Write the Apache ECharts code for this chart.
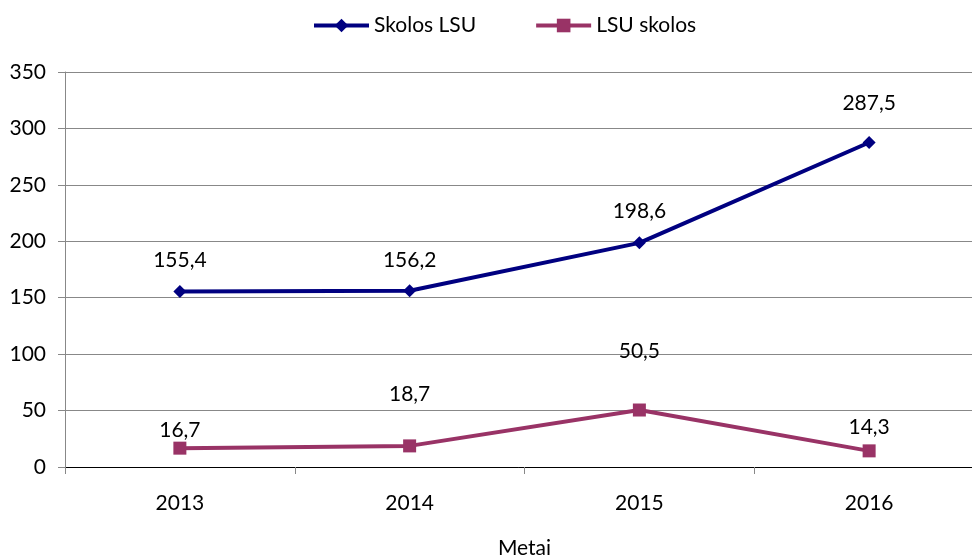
<!DOCTYPE html>
<html>
<head>
<meta charset="utf-8">
<script src="https://cdn.jsdelivr.net/npm/echarts@6/dist/echarts.min.js"></script>
<style>
  html, body { margin: 0; padding: 0; background: #fff; }
  #chart { width: 972px; height: 556px; }
</style>
</head>
<body>
<div id="chart"></div>
<script>
const years = ['2013', '2014', '2015', '2016'];
const skolosLsu = [155.4, 156.2, 198.6, 287.5];
const lsuSkolos = [16.7, 18.7, 50.5, 14.3];
// label distance above point, per point (Excel placed them unevenly)
const skolosLsuGap = [14, 13, 15, 22];
const lsuSkolosGap = [1, 35, 42, 7];

const font = 'Lato, "Open Sans", sans-serif';

function withLabels(values, gaps) {
    return values.map((v, i) => ({ value: v, label: { distance: gaps[i] } }));
}

const labelStyle = {
    show: true,
    position: 'top',
    color: '#000',
    fontSize: 21,
    fontFamily: font,
    formatter: p => String(p.value).replace('.', ',')
};

const chart = echarts.init(document.getElementById('chart'));
chart.setOption({
    animation: false,
    legend: {
        top: 10,
        left: 307,
        itemWidth: 55,
        itemHeight: 17,
        itemGap: 58,
        lineStyle: { width: 4 },
        textStyle: { fontSize: 21, fontFamily: font, color: '#000' },
        data: ['Skolos LSU', 'LSU skolos']
    },
    grid: { left: 65, top: 72, width: 919, height: 395, outerBoundsMode: 'none', containLabel: false },
    xAxis: {
        type: 'category',
        data: years,
        boundaryGap: true,
        name: 'Metai',
        nameLocation: 'middle',
        nameGap: 71,
        nameTextStyle: { fontSize: 21, fontFamily: font, color: '#000' },
        axisLine: { lineStyle: { color: '#000', width: 1 } },
        axisTick: { show: true, length: 7, lineStyle: { color: '#888' } },
        axisLabel: { margin: 26, fontSize: 21, fontFamily: font, color: '#000' },
        splitLine: { show: false }
    },
    yAxis: {
        type: 'value',
        min: 0,
        max: 350,
        interval: 50,
        axisLine: { show: true, lineStyle: { color: '#888' } },
        axisTick: { show: true, length: 7, lineStyle: { color: '#888' } },
        axisLabel: { margin: 19, fontSize: 21, fontFamily: font, color: '#000' },
        splitLine: { lineStyle: { color: '#888', width: 1 } }
    },
    series: [
        {
            name: 'Skolos LSU',
            type: 'line',
            data: withLabels(skolosLsu, skolosLsuGap),
            symbol: 'diamond',
            symbolSize: 13,
            color: '#000080',
            lineStyle: { width: 4, color: '#000080' },
            itemStyle: { color: '#000080' },
            label: labelStyle
        },
        {
            name: 'LSU skolos',
            type: 'line',
            data: withLabels(lsuSkolos, lsuSkolosGap),
            symbol: 'rect',
            symbolSize: 13,
            color: '#993366',
            lineStyle: { width: 4, color: '#993366' },
            itemStyle: { color: '#993366' },
            label: labelStyle
        }
    ]
});
</script>
</body>
</html>
